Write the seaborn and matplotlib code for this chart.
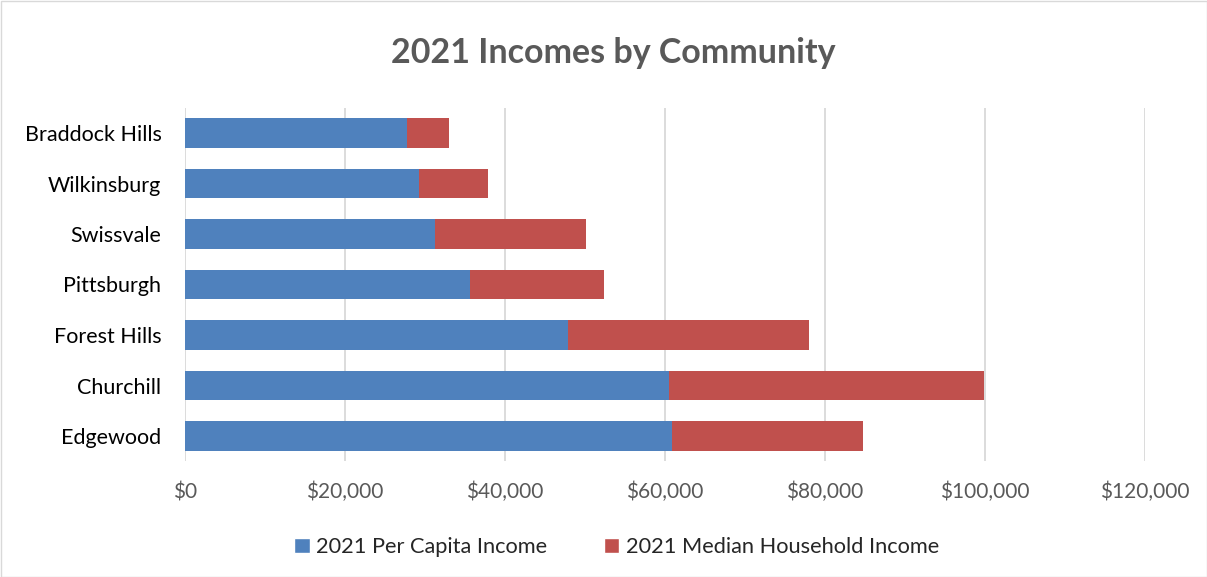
import matplotlib
matplotlib.use("Agg")
import matplotlib.pyplot as plt
import seaborn as sns
import pandas as pd
from matplotlib.patches import Rectangle, Patch
from matplotlib.ticker import FuncFormatter, MultipleLocator

communities = ["Braddock Hills", "Wilkinsburg", "Swissvale", "Pittsburgh",
               "Forest Hills", "Churchill", "Edgewood"]
per_capita = [27800, 29300, 31250, 35650, 47900, 60550, 60850]
median_household = [5240, 8620, 18910, 16760, 30140, 39300, 23860]
series_names = ["2021 Per Capita Income", "2021 Median Household Income"]

BLUE = "#4F81BD"
RED = "#C0504D"
GRAY = "#595959"

df = pd.DataFrame({"community": communities,
                   "per_capita": per_capita,
                   "median": median_household})
df["total"] = df["per_capita"] + df["median"]

sns.set_theme(style="white")
plt.rcParams["font.family"] = ["Lato", "DejaVu Sans"]

fig = plt.figure(figsize=(12.07, 5.77), dpi=100)
ax = fig.add_axes([185/1207, 1 - 461.25/577, 960/1207, 353.5/577])

sns.barplot(data=df, y="community", x="total", color=RED, width=0.58,
            saturation=1, ax=ax, order=communities, linewidth=0)
sns.barplot(data=df, y="community", x="per_capita", color=BLUE, width=0.58,
            saturation=1, ax=ax, order=communities, linewidth=0)

ax.set_xlim(0, 120000)
ax.set_ylim(len(communities) - 0.5, -0.5)
ax.xaxis.set_major_locator(MultipleLocator(20000))
ax.xaxis.set_major_formatter(FuncFormatter(lambda v, p: f"${v:,.0f}"))
ax.grid(axis="x", color="#D9D9D9", linewidth=1.3)
ax.set_axisbelow(True)
for s in ax.spines.values():
    s.set_visible(False)
ax.set_xlabel("")
ax.set_ylabel("")
ax.tick_params(axis="x", length=0, pad=15, labelsize=15, labelcolor=GRAY)
ax.tick_params(axis="y", length=0, pad=17, labelsize=15.5, labelcolor="black")

fig.text(0.508, 1 - 53/577, "2021 Incomes by Community", ha="center", va="center",
         fontsize=24.5, fontweight="bold", color=GRAY)

handles = [Patch(facecolor=BLUE, label=series_names[0]),
           Patch(facecolor=RED, label=series_names[1])]
fig.legend(handles=handles, loc="center", bbox_to_anchor=(0.511, 1 - 547/577),
           ncol=2, frameon=False, fontsize=15.7, handlelength=0.7, handleheight=0.7,
           handletextpad=0.3, columnspacing=2.6)

fig.patches.append(Rectangle((0.5/1207, 0.5/577), 1 - 1/1207, 1 - 1/577,
                             transform=fig.transFigure, fill=False,
                             edgecolor="#D9D9D9", linewidth=1))

fig.savefig("out.png", dpi=100)
